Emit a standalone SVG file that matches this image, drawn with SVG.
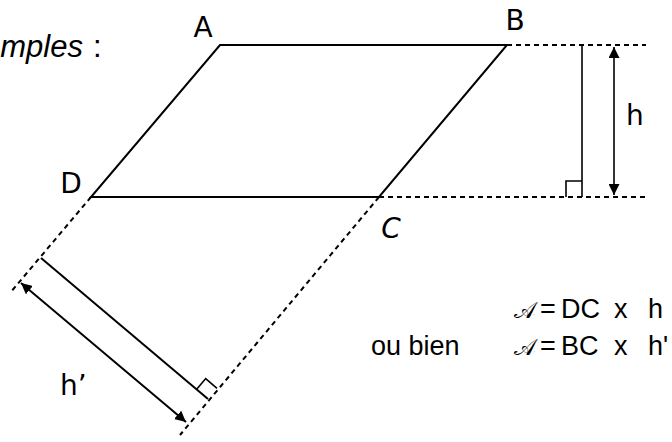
<svg xmlns="http://www.w3.org/2000/svg" width="672" height="442" viewBox="0 0 672 442">
<style>
.solid{fill:none;stroke:#000;stroke-width:2}
.thin{fill:none;stroke:#000;stroke-width:1.6}
.dash{fill:none;stroke:#000;stroke-width:2;stroke-dasharray:5 4}
.lbl{font-family:"Comic Sans MS","DejaVu Sans",sans-serif;font-size:28px;fill:#000}
.txt{font-family:"Liberation Sans",Arial,sans-serif;font-size:27px;fill:#000}
.ttl{font-family:"Liberation Sans",Arial,sans-serif;font-size:31px;fill:#000}
.scr{font-family:"DejaVu Serif","Liberation Serif",serif;font-size:23px;fill:#000}
</style>
<defs>
<marker id="ah" viewBox="0 0 10 10" refX="10" refY="5" markerWidth="11" markerHeight="11" markerUnits="userSpaceOnUse" orient="auto-start-reverse">
<path d="M0,0 L10,5 L0,10 z" fill="#000"/>
</marker>
</defs>
<g id="title"><text class="ttl" x="83" y="57" text-anchor="end" font-style="italic">mples</text><text class="ttl" x="93" y="57">:</text></g>
<g id="parallelogram"><polygon class="solid" points="220,45 507,45 379,197 91,197"/></g>
<g id="connectors">
<line class="dash" x1="507" y1="45" x2="646" y2="45"/>
<line class="dash" x1="379" y1="197" x2="646" y2="197"/>
<line class="dash" x1="379" y1="197" x2="180" y2="435"/>
<line class="dash" x1="91" y1="197" x2="10" y2="293"/>
<line class="thin" x1="582" y1="45" x2="582" y2="197"/>
<polyline class="thin" points="566,197 566,181 582,181"/>
<line class="thin" x1="614" y1="47" x2="614" y2="195" marker-start="url(#ah)" marker-end="url(#ah)"/>
<line class="solid" x1="41" y1="258" x2="208" y2="399"/>
<polyline class="thin" points="196.7,389.3 205.7,378.6 217,388.3"/>
<line class="solid" x1="21" y1="283" x2="186" y2="422" marker-start="url(#ah)" marker-end="url(#ah)"/>
</g>
<g id="labels">
<text class="lbl" x="203" y="37" text-anchor="middle">A</text>
<text class="lbl" x="515" y="30" text-anchor="middle">B</text>
<text class="lbl" x="71" y="193" text-anchor="middle">D</text>
<text class="lbl" x="391" y="238" text-anchor="middle" font-style="italic">C</text>
<text class="lbl" x="626" y="125">h</text>
<text class="lbl" x="60" y="395">h’</text>
</g>
<g id="formulas">
<text class="scr" x="514" y="318">𝒜</text>
<text class="txt" x="540" y="318">=</text>
<text class="txt" x="561" y="318">DC</text>
<text class="txt" x="614" y="318">x</text>
<text class="txt" x="648" y="318">h</text>
<text class="txt" x="371" y="355">ou bien</text>
<text class="scr" x="514" y="355">𝒜</text>
<text class="txt" x="540" y="355">=</text>
<text class="txt" x="561" y="355">BC</text>
<text class="txt" x="614" y="355">x</text>
<text class="txt" x="648" y="355">h'</text>
</g>
</svg>
